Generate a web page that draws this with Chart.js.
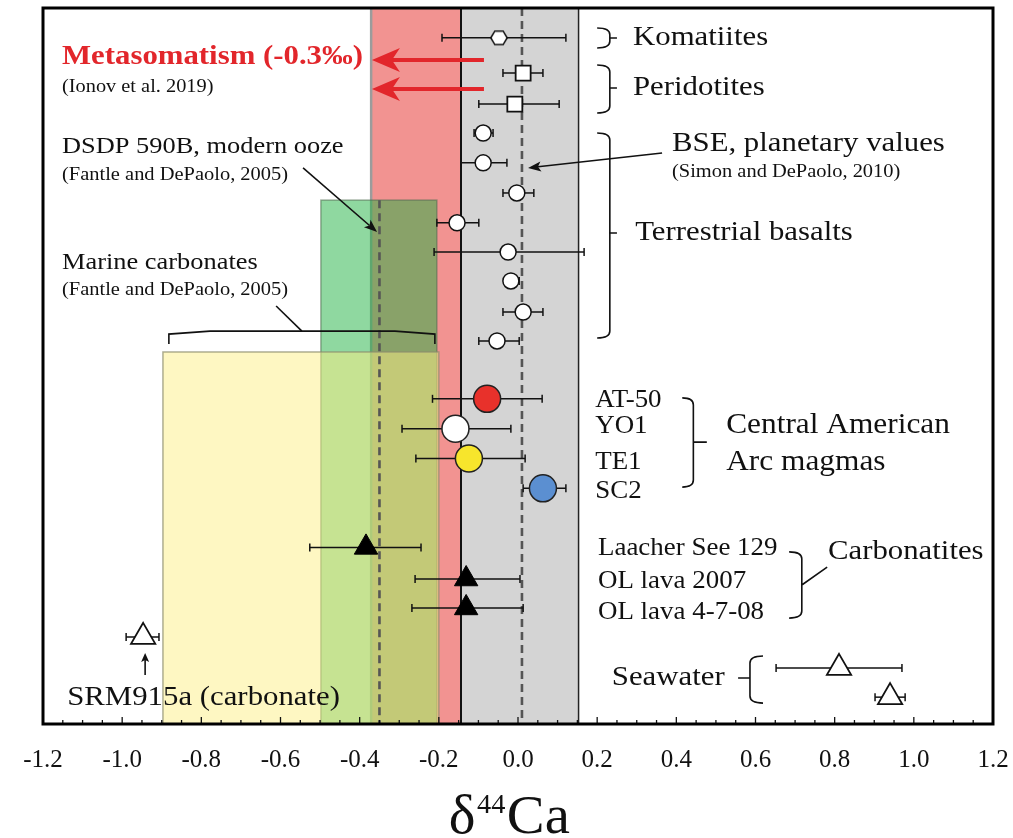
<!DOCTYPE html>
<html>
<head>
<meta charset="utf-8">
<title>δ44Ca</title>
<script src="https://cdn.jsdelivr.net/npm/chart.js"></script>
<style>
html,body{margin:0;padding:0;background:#ffffff;overflow:hidden;}
canvas{display:block;}
</style>
</head>
<body>
<canvas id="chart" width="1013" height="838"></canvas>
<script>
// ---------------- data ----------------
const xTickValues = [-1.2, -1.0, -0.8, -0.6, -0.4, -0.2, 0.0, 0.2, 0.4, 0.6, 0.8, 1.0, 1.2];
const xTickLabels = ['-1.2', '-1.0', '-0.8', '-0.6', '-0.4', '-0.2', '0.0', '0.2', '0.4', '0.6', '0.8', '1.0', '1.2'];

// rows: vertical position of each sample (0 = top, 24 = bottom)
const komatiiteX = [-0.048];
const komatiiteLo = [-0.192];
const komatiiteHi = [0.121];
const komatiiteRow = [1.0];

const peridotiteX = [0.013, -0.008];
const peridotiteLo = [-0.038, -0.099];
const peridotiteHi = [0.063, 0.104];
const peridotiteRow = [2.18, 3.22];

const basaltX = [-0.088, -0.088, -0.003, -0.154, -0.025, -0.018, 0.013, -0.053];
const basaltLo = [-0.111, -0.144, -0.038, -0.205, -0.212, -0.030, -0.038, -0.099];
const basaltHi = [-0.063, -0.028, 0.040, -0.099, 0.167, 0.003, 0.063, 0.003];
const basaltRow = [4.19, 5.19, 6.2, 7.2, 8.18, 9.15, 10.19, 11.16];

const arcNames = ['AT-50', 'YO1', 'TE1', 'SC2'];
const arcX = [-0.078, -0.158, -0.124, 0.063];
const arcLo = [-0.216, -0.293, -0.258, 0.013];
const arcHi = [0.061, -0.018, 0.018, 0.121];
const arcRow = [13.1, 14.1, 15.1, 16.1];
const arcColors = ['#e8312b', '#ffffff', '#f7e52c', '#5b8fd1'];

const carbonatiteNames = ['Laacher See 129', 'OL lava 2007', 'OL lava 4-7-08'];
const carbonatiteX = [-0.384, -0.131, -0.131];
const carbonatiteLo = [-0.526, -0.260, -0.268];
const carbonatiteHi = [-0.245, 0.005, 0.013];
const carbonatiteRow = [18.08, 19.14, 20.11];

const srmX = [-0.947];
const srmLo = [-0.990];
const srmHi = [-0.907];
const srmRow = [21.08];

const seawaterX = [0.811, 0.940];
const seawaterLo = [0.652, 0.902];
const seawaterHi = [0.970, 0.978];
const seawaterRow = [22.12, 23.1];

const metasomatismBand = [-0.371, -0.144];
const bseBand = [-0.144, 0.153];
const bseMean = [0.010];
const oozeBox = [-0.498, -0.205];
const oozeTop = [6.44];
const oozeMean = [-0.350];
const marineBox = [-0.897, -0.200];
const marineTop = [11.53];

// ---------------- helpers ----------------
const FONT = '"Liberation Serif", "Times New Roman", serif';
const SX = 1.1;

const errorGroups = [
  [komatiiteX, komatiiteLo, komatiiteHi, komatiiteRow],
  [peridotiteX, peridotiteLo, peridotiteHi, peridotiteRow],
  [basaltX, basaltLo, basaltHi, basaltRow],
  [arcX, arcLo, arcHi, arcRow],
  [carbonatiteX, carbonatiteLo, carbonatiteHi, carbonatiteRow],
  [srmX, srmLo, srmHi, srmRow],
  [seawaterX, seawaterLo, seawaterHi, seawaterRow]
];

function pts(xs, rows) { return xs.map((x, i) => ({x: x, y: rows[i]})); }

// hexagon marker
const hex = document.createElement('canvas');
hex.width = 20; hex.height = 17;
(function () {
  const h = hex.getContext('2d');
  const cx = 10, cy = 8.5, rw = 8.2, rh = 6.8;
  h.beginPath();
  h.moveTo(cx - rw, cy); h.lineTo(cx - rw / 2, cy - rh); h.lineTo(cx + rw / 2, cy - rh);
  h.lineTo(cx + rw, cy); h.lineTo(cx + rw / 2, cy + rh); h.lineTo(cx - rw / 2, cy + rh);
  h.closePath();
  h.fillStyle = '#fff'; h.fill();
  h.lineWidth = 1.5; h.strokeStyle = '#111'; h.stroke();
})();

function txt(ctx, s, x, y, size, opts) {
  opts = opts || {};
  ctx.save();
  ctx.font = (opts.bold ? 'bold ' : '') + size + 'px ' + FONT;
  ctx.fillStyle = opts.color || '#111';
  ctx.textBaseline = opts.baseline || 'middle';
  ctx.textAlign = opts.align || 'left';
  ctx.translate(x, y);
  ctx.scale(opts.sx || SX, 1);
  ctx.fillText(s, 0, 0);
  ctx.restore();
}

function line(ctx, pts, w, color, dash) {
  ctx.save();
  ctx.beginPath();
  ctx.moveTo(pts[0][0], pts[0][1]);
  for (let i = 1; i < pts.length; i++) ctx.lineTo(pts[i][0], pts[i][1]);
  ctx.lineWidth = w; ctx.strokeStyle = color || '#111';
  if (dash) ctx.setLineDash(dash);
  ctx.stroke();
  ctx.restore();
}

function arrow(ctx, x0, y0, x1, y1, w, color, len, half, notch) {
  const ang = Math.atan2(y1 - y0, x1 - x0);
  const c = Math.cos(ang), s = Math.sin(ang);
  const bx = x1 - c * notch, by = y1 - s * notch;
  line(ctx, [[x0, y0], [bx, by]], w, color);
  ctx.save();
  ctx.beginPath();
  ctx.moveTo(x1, y1);
  ctx.lineTo(x1 - c * len - s * half, y1 - s * len + c * half);
  ctx.lineTo(bx, by);
  ctx.lineTo(x1 - c * len + s * half, y1 - s * len - c * half);
  ctx.closePath();
  ctx.fillStyle = color;
  ctx.fill();
  ctx.restore();
}

function brace(ctx, xStub, xSpine, xTick, yTop, yBot, yMid, tickEnd) {
  const r = Math.min(7, (yBot - yTop) / 3);
  ctx.save();
  ctx.beginPath();
  ctx.moveTo(xStub, yTop);
  ctx.quadraticCurveTo(xSpine, yTop, xSpine, yTop + r);
  ctx.lineTo(xSpine, yBot - r);
  ctx.quadraticCurveTo(xSpine, yBot, xStub, yBot);
  ctx.moveTo(xSpine, yMid);
  ctx.lineTo(tickEnd ? tickEnd[0] : xTick, tickEnd ? tickEnd[1] : yMid);
  ctx.lineWidth = 1.6; ctx.strokeStyle = '#111';
  ctx.stroke();
  ctx.restore();
}

// ---------------- plugin ----------------
const overlay = {
  id: 'overlay',
  beforeDatasetsDraw(chart) {
    const ctx = chart.ctx, a = chart.chartArea;
    const xs = chart.scales.x, ys = chart.scales.y;
    const X = v => xs.getPixelForValue(v), Y = r => ys.getPixelForValue(r);
    ctx.save();
    ctx.beginPath(); ctx.rect(a.left, a.top, a.right - a.left, a.bottom - a.top); ctx.clip();
    const H = a.bottom - a.top;
    // metasomatism band
    ctx.fillStyle = '#f29391';
    ctx.fillRect(X(metasomatismBand[0]), a.top, X(metasomatismBand[1]) - X(metasomatismBand[0]), H);
    // BSE band
    ctx.fillStyle = '#d4d4d4';
    ctx.fillRect(X(bseBand[0]), a.top, X(bseBand[1]) - X(bseBand[0]), H);
    line(ctx, [[X(metasomatismBand[0]), a.top], [X(metasomatismBand[0]), a.bottom]], 2.5, '#9c9c9c');
    line(ctx, [[X(bseBand[1]), a.top], [X(bseBand[1]), a.bottom]], 1.5, '#222');
    // modern ooze box
    ctx.fillStyle = 'rgba(31,177,65,0.5)';
    ctx.fillRect(X(oozeBox[0]), Y(oozeTop[0]), X(oozeBox[1]) - X(oozeBox[0]), a.bottom - Y(oozeTop[0]));
    ctx.strokeStyle = 'rgba(80,110,80,0.55)'; ctx.lineWidth = 1.5;
    ctx.strokeRect(X(oozeBox[0]), Y(oozeTop[0]), X(oozeBox[1]) - X(oozeBox[0]), a.bottom - Y(oozeTop[0]) + 5);
    // marine carbonates box
    ctx.fillStyle = 'rgba(253,240,134,0.5)';
    ctx.fillRect(X(marineBox[0]), Y(marineTop[0]), X(marineBox[1]) - X(marineBox[0]), a.bottom - Y(marineTop[0]));
    ctx.strokeStyle = 'rgba(140,140,110,0.7)'; ctx.lineWidth = 1.5;
    ctx.strokeRect(X(marineBox[0]), Y(marineTop[0]), X(marineBox[1]) - X(marineBox[0]), a.bottom - Y(marineTop[0]) + 5);
    // dashed means
    line(ctx, [[X(bseMean[0]), a.top], [X(bseMean[0]), a.bottom]], 2.6, '#555', [8, 5]);
    line(ctx, [[X(oozeMean[0]), Y(oozeTop[0])], [X(oozeMean[0]), a.bottom]], 2.6, '#555', [8, 5]);
    // solid line
    line(ctx, [[X(bseBand[0]), a.top], [X(bseBand[0]), a.bottom]], 2, '#111');
    ctx.restore();
    // error bars
    errorGroups.forEach(g => {
      const [gx, lo, hi, row] = g;
      gx.forEach((v, i) => {
        const y = Y(row[i]), l = X(lo[i]), h = X(hi[i]);
        if (h - l < 1) return;
        line(ctx, [[l, y], [h, y]], 1.5, '#111');
        line(ctx, [[l, y - 4], [l, y + 4]], 1.5, '#111');
        line(ctx, [[h, y - 4], [h, y + 4]], 1.5, '#111');
      });
    });
  },
  afterDraw(chart) {
    const ctx = chart.ctx, a = chart.chartArea;
    const xs = chart.scales.x, ys = chart.scales.y;
    const X = v => xs.getPixelForValue(v), Y = r => ys.getPixelForValue(r);
    // inner ticks
    for (let i = -24; i <= 24; i++) {
      const px = X(i * 0.05);
      const len = (i % 4 === 0) ? 7 : 4;
      line(ctx, [[px, a.bottom], [px, a.bottom - len]], 1.3, '#111');
    }
    // frame
    ctx.save();
    ctx.lineWidth = 3; ctx.strokeStyle = '#000';
    ctx.strokeRect(a.left, a.top, a.right - a.left, a.bottom - a.top);
    ctx.restore();

    // red metasomatism arrows + label
    const red = '#e2262b';
    arrow(ctx, X(-0.086), Y(1.743), X(-0.369), Y(1.743), 4, red, 28, 12, 20);
    arrow(ctx, X(-0.086), Y(2.715), X(-0.369), Y(2.715), 4, red, 28, 12, 20);
    txt(ctx, 'Metasomatism (-0.3\u2030)', X(-1.152), Y(1.64), 28, {bold: true, color: red});
    txt(ctx, '(Ionov et al. 2019)', X(-1.152), Y(2.65), 18.5);

    // DSDP
    txt(ctx, 'DSDP 590B, modern ooze', X(-1.152), Y(4.66), 24);
    txt(ctx, '(Fantle and DePaolo, 2005)', X(-1.152), Y(5.6), 18.6);
    arrow(ctx, X(-0.543), Y(5.36), X(-0.356), Y(7.51), 1.6, '#111', 13, 5, 10);

    // Marine carbonates
    txt(ctx, 'Marine carbonates', X(-1.152), Y(8.55), 24);
    txt(ctx, '(Fantle and DePaolo, 2005)', X(-1.152), Y(9.45), 18.6);
    line(ctx, [[X(-0.882), Y(11.26)], [X(-0.882), Y(10.93)], [X(-0.778), Y(10.83)], [X(-0.311), Y(10.83)], [X(-0.210), Y(10.93)], [X(-0.210), Y(11.26)]], 1.6, '#111');
    line(ctx, [[X(-0.546), Y(10.83)], [X(-0.611), Y(9.99)]], 1.6, '#111');

    // Komatiites / Peridotites / basalts
    brace(ctx, X(0.200), X(0.232), X(0.250), Y(0.67), Y(1.34), Y(1.006));
    txt(ctx, 'Komatiites', X(0.2905), Y(1.0), 28);
    brace(ctx, X(0.200), X(0.232), X(0.250), Y(1.91), Y(3.52), Y(2.68));
    txt(ctx, 'Peridotites', X(0.2905), Y(2.68), 28);
    brace(ctx, X(0.200), X(0.232), X(0.250), Y(4.19), Y(11.06), Y(7.54));
    txt(ctx, 'Terrestrial basalts', X(0.296), Y(7.54), 28);

    // BSE
    txt(ctx, 'BSE, planetary values', X(0.389), Y(4.56), 28);
    txt(ctx, '(Simon and DePaolo, 2010)', X(0.389), Y(5.50), 18.6);
    arrow(ctx, X(0.364), Y(4.86), X(0.0253), Y(5.36), 1.6, '#111', 13, 5, 10);

    // Arc magmas
    const arcLabelRows = [13.17, 14.04, 15.25, 16.22];
    arcNames.forEach((n, i) => txt(ctx, n, X(0.195), Y(arcLabelRows[i]), 24.5));
    brace(ctx, X(0.415), X(0.443), X(0.477), Y(13.07), Y(16.06), Y(14.55));
    txt(ctx, 'Central American', X(0.526), Y(13.98), 28.5);
    txt(ctx, 'Arc magmas', X(0.526), Y(15.25), 28.5);

    // Carbonatites
    const carbLabelRows = [18.13, 19.24, 20.25];
    carbonatiteNames.forEach((n, i) => txt(ctx, n, X(0.202), Y(carbLabelRows[i]), 24.5));
    brace(ctx, X(0.685), X(0.717), X(0.781), Y(18.23), Y(20.45), Y(19.34), [X(0.781), Y(18.74)]);
    txt(ctx, 'Carbonatites', X(0.783), Y(18.23), 28);

    // Seawater
    brace(ctx, X(0.619), X(0.586), X(0.556), Y(21.72), Y(23.30), Y(22.46));
    txt(ctx, 'Seawater', X(0.237), Y(22.46), 28);

    // SRM915a
    arrow(ctx, X(-0.942), Y(22.36), X(-0.942), Y(21.62), 1.6, '#111', 9, 4, 7);
    txt(ctx, 'SRM915a (carbonate)', X(-1.139), Y(23.13), 28);

    // axis title  δ44Ca
    const big = 54, sup = 27, tsx = 1.05;
    ctx.save();
    ctx.font = big + 'px ' + FONT;
    const w1 = ctx.measureText('\u03b4').width * tsx, w3 = ctx.measureText('Ca').width * tsx;
    ctx.font = sup + 'px ' + FONT;
    const w2 = ctx.measureText('44').width * tsx;
    ctx.restore();
    const total = w1 + w2 + w3 + 3;
    const tx = X(-0.022) - total / 2;
    const base = a.bottom + 109;
    txt(ctx, '\u03b4', tx, base, big, {baseline: 'alphabetic', sx: tsx});
    txt(ctx, '44', tx + w1 + 1.5, base - 20, sup, {baseline: 'alphabetic', sx: tsx});
    txt(ctx, 'Ca', tx + w1 + w2 + 3, base, big, {baseline: 'alphabetic', sx: tsx});
  }
};

// ---------------- chart ----------------
Chart.defaults.font.family = FONT;
const chart = new Chart(document.getElementById('chart').getContext('2d'), {
  type: 'scatter',
  data: {
    datasets: [
      {label: 'Komatiites', data: pts(komatiiteX, komatiiteRow), pointStyle: hex, pointRadius: 8},
      {label: 'Peridotites', data: pts(peridotiteX, peridotiteRow), pointStyle: 'rect', pointRadius: 10.6,
        pointBackgroundColor: '#fff', pointBorderColor: '#111', pointBorderWidth: 1.8},
      {label: 'Terrestrial basalts', data: pts(basaltX, basaltRow), pointStyle: 'circle', pointRadius: 8,
        pointBackgroundColor: '#fff', pointBorderColor: '#111', pointBorderWidth: 1.5},
      {label: 'Arc magmas', data: pts(arcX, arcRow), pointStyle: 'circle', pointRadius: 13.5,
        pointBackgroundColor: arcColors, pointBorderColor: '#222', pointBorderWidth: 1.5},
      {label: 'Carbonatites', data: pts(carbonatiteX, carbonatiteRow), pointStyle: 'triangle', pointRadius: 13.5,
        pointBackgroundColor: '#000', pointBorderColor: '#000', pointBorderWidth: 1},
      {label: 'SRM915a', data: pts(srmX, srmRow), pointStyle: 'triangle', pointRadius: 14,
        pointBackgroundColor: '#fff', pointBorderColor: '#111', pointBorderWidth: 1.8},
      {label: 'Seawater', data: pts(seawaterX, seawaterRow), pointStyle: 'triangle', pointRadius: 14,
        pointBackgroundColor: '#fff', pointBorderColor: '#111', pointBorderWidth: 1.8}
    ]
  },
  options: {
    responsive: false,
    animation: false,
    events: [],
    layout: {autoPadding: false, padding: {left: 43, right: 20, top: 8, bottom: 0}},
    plugins: {legend: {display: false}, tooltip: {enabled: false}},
    scales: {
      x: {
        type: 'linear', min: -1.2, max: 1.2, position: 'bottom',
        afterBuildTicks: s => { s.ticks = xTickValues.map(v => ({value: v})); },
        afterFit: s => { s.height = 114; s.paddingLeft = 0; s.paddingRight = 0; },
        grid: {display: false, drawTicks: false},
        border: {display: false},
        ticks: {
          font: {family: FONT, size: 25}, color: '#111', padding: 21,
          maxRotation: 0, autoSkip: false,
          callback: (v, i) => xTickLabels[i]
        }
      },
      y: {type: 'linear', min: 0, max: 24, reverse: true, display: false}
    }
  },
  plugins: [overlay]
});
</script>
</body>
</html>
